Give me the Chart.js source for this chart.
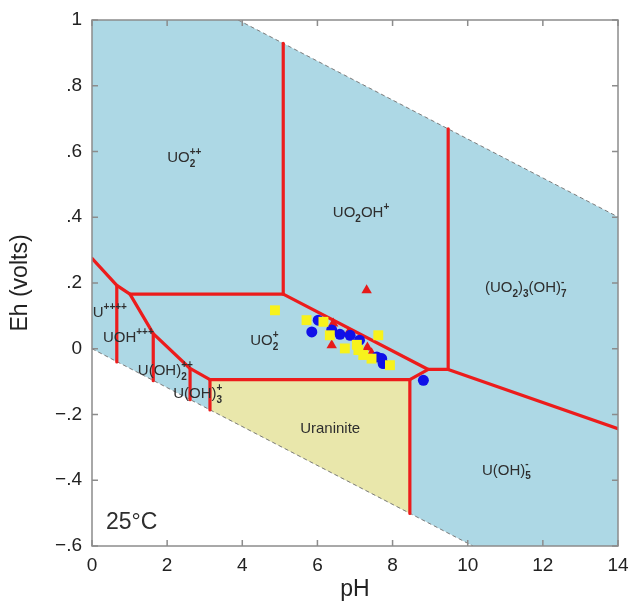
<!DOCTYPE html>
<html>
<head>
<meta charset="utf-8">
<script src="https://cdn.jsdelivr.net/npm/chart.js@4"></script>
<style>
  html, body { margin: 0; padding: 0; background: #fff; }
  #wrap { width: 632px; height: 603px; }
</style>
</head>
<body>
<div id="wrap"><canvas id="chart-ehph"></canvas></div>
<script>
const FONT = '"Liberation Sans", Arial, sans-serif';

const phTicks = [0, 2, 4, 6, 8, 10, 12, 14];
const ehTicks = [-0.6, -0.4, -0.2, 0, 0.2, 0.4, 0.6, 0.8, 1];

// water stability field, bounded by the O2/H2O and H2O/H2 lines
const fieldPH = [0, 3.89, 10.14, 14];
const fieldEhTop = [1, 1, 0.63, 0.401];
const fieldEhBottom = [0, -0.23, -0.6, -0.6];
const o2LinePH = [3.89, 14];
const o2LineEh = [1, 0.401];
const h2LinePH = [0, 10.14];
const h2LineEh = [0, -0.6];

// uraninite stability field
const uraninitePH = [3.14, 8.46];
const uraniniteEhTop = [-0.094, -0.094];
const uraniniteEhBottom = [-0.186, -0.501];

// predominance boundaries, each one a polyline of [pH, Eh]
const boundaries = [
  [[0, 0.275], [0.66, 0.193], [1.01, 0.166], [5.09, 0.166], [8.95, -0.063], [9.48, -0.063], [14, -0.243]],
  [[0.66, 0.193], [0.66, -0.04]],
  [[1.01, 0.166], [1.63, 0.046], [2.61, -0.06], [3.14, -0.094], [8.46, -0.094], [8.95, -0.063]],
  [[1.63, 0.046], [1.63, -0.097]],
  [[2.61, -0.06], [2.61, -0.155]],
  [[3.14, -0.094], [3.14, -0.186]],
  [[8.46, -0.094], [8.46, -0.501]],
  [[5.09, 0.166], [5.09, 0.929]],
  [[9.48, -0.063], [9.48, 0.669]],
];

// groundwater samples
const squaresPH = [4.87, 5.71, 6.16, 6.33, 6.73, 7.09, 7.22, 7.44, 7.62, 7.93, 7.05];
const squaresEh = [0.117, 0.087, 0.082, 0.041, 0.001, -0.004, -0.019, -0.03, 0.041, -0.05, 0.012];
const circlesPH = [6.02, 5.85, 6.38, 6.6, 6.87, 7.12, 7.58, 7.71, 7.75, 8.82];
const circlesEh = [0.087, 0.051, 0.057, 0.044, 0.041, 0.026, -0.025, -0.03, -0.045, -0.096];
const trianglesPH = [7.31, 6.42, 6.82, 6.38, 7.33, 7.44];
const trianglesEh = [0.178, 0.077, 0.047, 0.011, 0.004, -0.014];

// species names; a part is plain text or a {sub, sup} pair stacked after it
const fieldLabels = [
  { ph: 2.0, eh: 0.58, parts: ['UO', { sub: '2', sup: '++' }] },
  { ph: 6.41, eh: 0.413, parts: ['UO', { sub: '2' }, 'OH', { sup: '+' }] },
  { ph: 10.46, eh: 0.184, parts: ['(UO', { sub: '2' }, ')', { sub: '3' }, '(OH)', { sub: '7', sup: '-' }] },
  { ph: 0.02, eh: 0.108, parts: ['U', { sup: '++++' }] },
  { ph: 0.29, eh: 0.032, parts: ['UOH', { sup: '+++' }] },
  { ph: 1.22, eh: -0.068, parts: ['U(OH)', { sub: '2', sup: '++' }] },
  { ph: 2.16, eh: -0.138, parts: ['U(OH)', { sub: '3', sup: '+' }] },
  { ph: 4.21, eh: 0.023, parts: ['UO', { sub: '2', sup: '+' }] },
  { ph: 5.54, eh: -0.245, parts: ['Uraninite'] },
  { ph: 10.38, eh: -0.37, parts: ['U(OH)', { sub: '5', sup: '-' }] },
  { ph: 0.37, eh: -0.528, parts: ['25°C'], size: 23 },
];

const pts = (xs, ys) => xs.map((x, i) => ({ x, y: ys[i] }));

const fillSet = (data, color, order) => ({
  data, fill: color ? '+1' : false, backgroundColor: color || 'transparent',
  borderWidth: 0, pointRadius: 0, order,
});
const dashSet = data => ({
  data, borderColor: '#7a7a7a', borderWidth: 1, borderDash: [4, 3],
  pointRadius: 0, fill: false, order: 8,
});
const pointSet = (data, style, color, radius) => ({
  data, showLine: false, pointStyle: style, pointRadius: radius,
  pointBackgroundColor: color, pointBorderColor: color, pointBorderWidth: 0, order: 1,
});

const datasets = [
  fillSet(pts(fieldPH, fieldEhTop), '#add8e5', 10),
  fillSet(pts(fieldPH, fieldEhBottom), null, 10),
  fillSet(pts(uraninitePH, uraniniteEhTop), '#e9e7ab', 9),
  fillSet(pts(uraninitePH, uraniniteEhBottom), null, 9),
  dashSet(pts(o2LinePH, o2LineEh)),
  dashSet(pts(h2LinePH, h2LineEh)),
  ...boundaries.map(line => ({
    data: line.map(([x, y]) => ({ x, y })),
    borderColor: '#ec1c1c', borderWidth: 3.2, pointRadius: 0, fill: false,
    borderCapStyle: 'round', borderJoinStyle: 'round', order: 5,
  })),
  pointSet(pts(squaresPH, squaresEh), 'rect', '#f7f21c', 7),
  pointSet(pts(circlesPH, circlesEh), 'circle', '#1010e8', 5.5),
  pointSet(pts(trianglesPH, trianglesEh), 'triangle', '#e61a1a', 6),
];

const labelPlugin = {
  id: 'fieldLabels',
  afterDatasetsDraw(chart) {
    const { ctx, scales: { x, y } } = chart;
    ctx.save();
    ctx.fillStyle = '#2e2e2e';
    ctx.textBaseline = 'middle';
    ctx.textAlign = 'left';
    for (const lab of fieldLabels) {
      const size = lab.size || 15;
      let px = x.getPixelForValue(lab.ph);
      const py = y.getPixelForValue(lab.eh);
      for (const part of lab.parts) {
        if (typeof part === 'string') {
          ctx.font = `${size}px ${FONT}`;
          ctx.fillText(part, px, py);
          px += ctx.measureText(part).width;
        } else {
          ctx.font = `bold 10px ${FONT}`;
          let w = 0;
          if (part.sub) {
            ctx.fillText(part.sub, px, py + 6);
            w = Math.max(w, ctx.measureText(part.sub).width);
          }
          if (part.sup) {
            ctx.fillText(part.sup, px, py - 6);
            w = Math.max(w, ctx.measureText(part.sup).width);
          }
          px += w;
        }
      }
    }
    ctx.restore();
  },
};

// box frame with inward ticks on all four sides
const framePlugin = {
  id: 'frame',
  afterDatasetsDraw(chart) {
    const { ctx, chartArea: a, scales: { x, y } } = chart;
    ctx.save();
    ctx.strokeStyle = '#8c8c8c';
    ctx.lineWidth = 1.5;
    ctx.strokeRect(a.left, a.top, a.right - a.left, a.bottom - a.top);
    ctx.beginPath();
    x.ticks.forEach(t => {
      const px = x.getPixelForValue(t.value);
      ctx.moveTo(px, a.bottom); ctx.lineTo(px, a.bottom - 6);
      ctx.moveTo(px, a.top); ctx.lineTo(px, a.top + 6);
    });
    y.ticks.forEach(t => {
      const py = y.getPixelForValue(t.value);
      ctx.moveTo(a.left, py); ctx.lineTo(a.left + 6, py);
      ctx.moveTo(a.right, py); ctx.lineTo(a.right - 6, py);
    });
    ctx.stroke();
    ctx.restore();
  },
};

const fmtEh = v => {
  const r = Math.round(v * 10) / 10;
  if (r === 0) return '0';
  if (r === 1) return '1';
  const s = Math.abs(r).toFixed(1).replace(/^0/, '');
  return r < 0 ? '\u2212' + s : s;
};

new Chart(document.getElementById('chart-ehph'), {
  type: 'line',
  data: { datasets },
  plugins: [labelPlugin, framePlugin],
  options: {
    responsive: true,
    maintainAspectRatio: false,
    animation: false,
    layout: { padding: { top: 20, right: 14, left: 0, bottom: 0 } },
    plugins: { legend: { display: false }, tooltip: { enabled: false } },
    scales: {
      x: {
        type: 'linear', min: 0, max: 14,
        afterBuildTicks: s => { s.ticks = phTicks.map(value => ({ value })); },
        afterFit: s => { s.height = 57; s.paddingLeft = 0; s.paddingRight = 0; },
        grid: { display: false, drawTicks: false },
        border: { display: false },
        ticks: { color: '#222', font: { family: FONT, size: 19 }, padding: 8, maxRotation: 0 },
        title: { display: true, text: 'pH', color: '#222', font: { family: FONT, size: 23 }, padding: { top: 0, bottom: 0 } },
      },
      y: {
        type: 'linear', min: -0.6, max: 1,
        afterBuildTicks: s => { s.ticks = ehTicks.map(value => ({ value })); },
        afterFit: s => { s.width = 92; s.paddingTop = 0; s.paddingBottom = 0; },
        grid: { display: false, drawTicks: false },
        border: { display: false },
        ticks: { color: '#222', font: { family: FONT, size: 19 }, padding: 10, callback: fmtEh },
        title: { display: true, text: 'Eh (volts)', color: '#222', font: { family: FONT, size: 23 }, padding: { top: 7, bottom: 0 } },
      },
    },
  },
});
</script>
</body>
</html>
